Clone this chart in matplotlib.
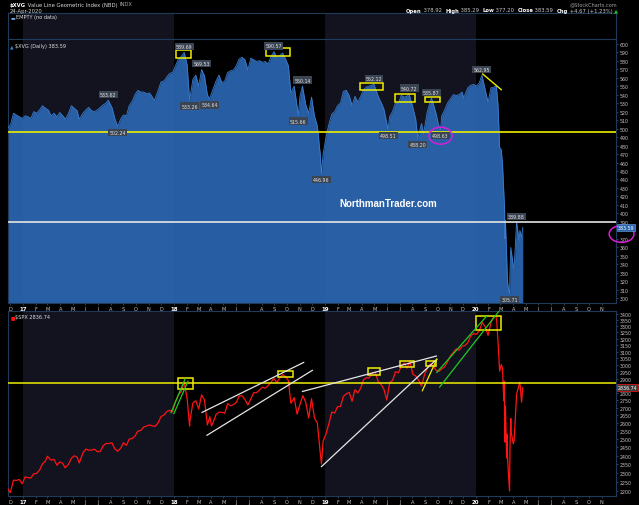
import numpy as np
import pandas as pd
import matplotlib
matplotlib.use("Agg")
import matplotlib.pyplot as plt
import matplotlib.dates as mdates
from matplotlib.patches import Rectangle, Ellipse
from matplotlib.ticker import FixedLocator, NullLocator, FuncFormatter
from matplotlib.offsetbox import TextArea, HPacker, AnchoredOffsetbox

# ---------------- data ----------------
xvg_dates = [
    "2016-11-25", "2016-12-02", "2016-12-09", "2016-12-16", "2016-12-23", "2016-12-30",
    "2017-01-06", "2017-01-13", "2017-01-20", "2017-01-27", "2017-02-03", "2017-02-10",
    "2017-02-17", "2017-02-24", "2017-03-03", "2017-03-10", "2017-03-17", "2017-03-24",
    "2017-03-31", "2017-04-07", "2017-04-14", "2017-04-21", "2017-04-28", "2017-05-05",
    "2017-05-12", "2017-05-17", "2017-05-26", "2017-06-02", "2017-06-09", "2017-06-16",
    "2017-06-23", "2017-06-30", "2017-07-07", "2017-07-14", "2017-07-21", "2017-07-26",
    "2017-08-04", "2017-08-11", "2017-08-18", "2017-08-25", "2017-09-01", "2017-09-08",
    "2017-09-15", "2017-09-22", "2017-09-29", "2017-10-06", "2017-10-13", "2017-10-20",
    "2017-10-27", "2017-11-03", "2017-11-10", "2017-11-15", "2017-11-24", "2017-12-01",
    "2017-12-08", "2017-12-15", "2017-12-22", "2017-12-29",
    "2018-01-05", "2018-01-12", "2018-01-19", "2018-01-26", "2018-02-02", "2018-02-08",
    "2018-02-16", "2018-02-23", "2018-03-02", "2018-03-09", "2018-03-16", "2018-03-23",
    "2018-03-28", "2018-04-06", "2018-04-13", "2018-04-20", "2018-04-27", "2018-05-04",
    "2018-05-11", "2018-05-18", "2018-05-25", "2018-06-01", "2018-06-08", "2018-06-15",
    "2018-06-22", "2018-06-29", "2018-07-06", "2018-07-13", "2018-07-20", "2018-07-27",
    "2018-08-03", "2018-08-10", "2018-08-17", "2018-08-24", "2018-08-31", "2018-09-07",
    "2018-09-14", "2018-09-21", "2018-09-28", "2018-10-05", "2018-10-11", "2018-10-19",
    "2018-10-29", "2018-11-02", "2018-11-08", "2018-11-16", "2018-11-23", "2018-11-30",
    "2018-12-07", "2018-12-14", "2018-12-21", "2018-12-24", "2018-12-28",
    "2019-01-04", "2019-01-11", "2019-01-18", "2019-01-25", "2019-02-01", "2019-02-08",
    "2019-02-15", "2019-02-22", "2019-03-01", "2019-03-08", "2019-03-15", "2019-03-22",
    "2019-03-29", "2019-04-05", "2019-04-12", "2019-04-18", "2019-04-30", "2019-05-03",
    "2019-05-10", "2019-05-17", "2019-05-24", "2019-06-03", "2019-06-07", "2019-06-14",
    "2019-06-21", "2019-06-28", "2019-07-05", "2019-07-12", "2019-07-19", "2019-07-24",
    "2019-08-02", "2019-08-09", "2019-08-14", "2019-08-23", "2019-08-28", "2019-09-06",
    "2019-09-16", "2019-09-20", "2019-09-27", "2019-10-03", "2019-10-08", "2019-10-11",
    "2019-10-18", "2019-10-25", "2019-11-01", "2019-11-08", "2019-11-15", "2019-11-22",
    "2019-11-29", "2019-12-03", "2019-12-13", "2019-12-20", "2019-12-27",
    "2020-01-03", "2020-01-10", "2020-01-16", "2020-01-24", "2020-01-31", "2020-02-07",
    "2020-02-14", "2020-02-20", "2020-02-24", "2020-02-27", "2020-02-28", "2020-03-03",
    "2020-03-06", "2020-03-09", "2020-03-11", "2020-03-12", "2020-03-13", "2020-03-16",
    "2020-03-18", "2020-03-20", "2020-03-23", "2020-03-24", "2020-03-26", "2020-04-01",
    "2020-04-03", "2020-04-09", "2020-04-15", "2020-04-17", "2020-04-21", "2020-04-24",
]
xvg_close = [
    500, 505, 518, 516, 514, 512,
    515, 514, 512, 520, 518, 522,
    527, 524, 522, 515, 518, 514,
    519, 515, 511, 518, 527, 524,
    521, 511, 518, 522, 525, 521,
    520, 522, 525, 528, 530, 533.62,
    525, 512, 502.24, 511, 516, 515,
    527, 532, 540, 545, 543, 543,
    541, 542, 537, 533, 545, 555,
    556, 561, 565, 566,
    574, 582, 585, 589.69, 575, 533.26,
    558, 563, 550, 569.53, 562, 540,
    534.64, 547, 556, 563, 554, 556,
    566, 568, 569, 574, 582, 584,
    581, 569, 583, 581, 579, 580,
    578, 579, 576, 585, 590.57, 584,
    586, 589, 582, 574, 542, 550,
    515.66, 538, 550.14, 528, 518, 537,
    515, 503, 470, 446.96, 470,
    490, 505, 517, 520, 527, 530,
    544, 545, 539, 527, 538, 531,
    538, 546, 549, 550, 552.12, 548,
    538, 531, 523, 498.51, 514, 520,
    530, 529, 539, 537, 538, 540.72,
    525, 511, 488.20, 506, 494, 520,
    535.87, 530, 518, 505, 498.63, 515,
    522, 530, 535, 540, 539, 540,
    543, 536, 548, 551, 552,
    550, 554, 562.95, 546, 531, 548,
    549, 550, 528, 491, 478, 475,
    458, 425, 405, 370, 392, 350,
    320, 312, 305.71, 330, 360, 338,
    335, 389.88, 368, 380, 372, 383.59,
]

spx_dates = [
    "2016-11-25", "2016-12-01", "2016-12-09", "2016-12-16", "2016-12-23", "2016-12-30",
    "2017-01-06", "2017-01-13", "2017-01-20", "2017-01-27", "2017-02-03", "2017-02-10",
    "2017-02-17", "2017-02-24", "2017-03-01", "2017-03-10", "2017-03-17", "2017-03-24",
    "2017-03-31", "2017-04-07", "2017-04-13", "2017-04-21", "2017-04-28", "2017-05-05",
    "2017-05-12", "2017-05-17", "2017-05-26", "2017-06-02", "2017-06-09", "2017-06-16",
    "2017-06-23", "2017-06-30", "2017-07-07", "2017-07-14", "2017-07-21", "2017-07-28",
    "2017-08-04", "2017-08-11", "2017-08-18", "2017-08-25", "2017-09-01", "2017-09-08",
    "2017-09-15", "2017-09-22", "2017-09-29", "2017-10-06", "2017-10-13", "2017-10-20",
    "2017-10-27", "2017-11-03", "2017-11-10", "2017-11-17", "2017-11-24", "2017-12-01",
    "2017-12-08", "2017-12-15", "2017-12-22", "2017-12-29",
    "2018-01-05", "2018-01-12", "2018-01-19", "2018-01-26", "2018-02-02", "2018-02-08",
    "2018-02-09", "2018-02-16", "2018-02-23", "2018-03-02", "2018-03-09", "2018-03-16",
    "2018-03-23", "2018-03-29", "2018-04-02", "2018-04-06", "2018-04-13", "2018-04-20",
    "2018-04-27", "2018-05-04", "2018-05-11", "2018-05-18", "2018-05-25", "2018-06-01",
    "2018-06-08", "2018-06-15", "2018-06-22", "2018-06-29", "2018-07-06", "2018-07-13",
    "2018-07-20", "2018-07-27", "2018-08-03", "2018-08-10", "2018-08-17", "2018-08-24",
    "2018-08-31", "2018-09-07", "2018-09-14", "2018-09-21", "2018-09-28", "2018-10-05",
    "2018-10-11", "2018-10-19", "2018-10-26", "2018-11-02", "2018-11-09", "2018-11-16",
    "2018-11-23", "2018-11-30", "2018-12-07", "2018-12-14", "2018-12-21", "2018-12-24",
    "2018-12-28",
    "2019-01-04", "2019-01-11", "2019-01-18", "2019-01-25", "2019-02-01", "2019-02-08",
    "2019-02-15", "2019-02-22", "2019-03-01", "2019-03-08", "2019-03-15", "2019-03-22",
    "2019-03-29", "2019-04-05", "2019-04-12", "2019-04-18", "2019-04-26", "2019-05-03",
    "2019-05-10", "2019-05-17", "2019-05-24", "2019-05-31", "2019-06-07", "2019-06-14",
    "2019-06-21", "2019-06-28", "2019-07-05", "2019-07-12", "2019-07-19", "2019-07-26",
    "2019-08-02", "2019-08-09", "2019-08-16", "2019-08-23", "2019-08-30", "2019-09-06",
    "2019-09-13", "2019-09-20", "2019-09-27", "2019-10-04", "2019-10-11", "2019-10-18",
    "2019-10-25", "2019-11-01", "2019-11-08", "2019-11-15", "2019-11-22", "2019-11-29",
    "2019-12-06", "2019-12-13", "2019-12-20", "2019-12-27",
    "2020-01-03", "2020-01-10", "2020-01-17", "2020-01-24", "2020-01-31", "2020-02-07",
    "2020-02-14", "2020-02-19", "2020-02-21", "2020-02-25", "2020-02-28", "2020-03-03",
    "2020-03-06", "2020-03-09", "2020-03-10", "2020-03-12", "2020-03-13", "2020-03-16",
    "2020-03-17", "2020-03-18", "2020-03-20", "2020-03-23", "2020-03-24", "2020-03-26",
    "2020-03-27", "2020-04-01", "2020-04-03", "2020-04-09", "2020-04-14", "2020-04-17",
    "2020-04-21", "2020-04-24",
]
spx_close = [
    2213, 2191, 2259, 2258, 2263, 2239,
    2277, 2274, 2271, 2295, 2297, 2316,
    2351, 2367, 2396, 2373, 2378, 2344,
    2363, 2355, 2329, 2349, 2384, 2399,
    2391, 2357, 2416, 2439, 2432, 2433,
    2438, 2423, 2425, 2459, 2473, 2472,
    2477, 2441, 2426, 2443, 2477, 2461,
    2500, 2502, 2519, 2549, 2553, 2575,
    2581, 2588, 2582, 2579, 2602, 2642,
    2652, 2675, 2683, 2674,
    2743, 2786, 2810, 2873, 2762, 2581,
    2620, 2732, 2747, 2691, 2786, 2752,
    2588, 2641, 2582, 2604, 2656, 2670,
    2670, 2663, 2728, 2713, 2721, 2735,
    2779, 2780, 2755, 2718, 2760, 2801,
    2802, 2819, 2840, 2833, 2850, 2875,
    2902, 2872, 2905, 2930, 2914, 2886,
    2729, 2768, 2658, 2723, 2781, 2736,
    2633, 2760, 2633, 2600, 2417, 2351,
    2486,
    2532, 2596, 2671, 2665, 2707, 2708,
    2776, 2793, 2804, 2743, 2822, 2800,
    2834, 2893, 2907, 2905, 2940, 2946,
    2881, 2860, 2826, 2752, 2873, 2887,
    2950, 2942, 2990, 3014, 2976, 3026,
    2932, 2919, 2889, 2847, 2926, 2979,
    3007, 2992, 2962, 2952, 2970, 2986,
    3023, 3067, 3093, 3120, 3110, 3141,
    3146, 3169, 3221, 3240,
    3235, 3265, 3330, 3295, 3226, 3328,
    3380, 3386, 3338, 3128, 2954, 3003,
    2972, 2747, 2882, 2481, 2711, 2386,
    2529, 2399, 2305, 2200, 2447, 2630,
    2541, 2471, 2489, 2790, 2846, 2875,
    2737, 2837,
]

# marked highs (+1) / lows (-1) on the XVG panel
xvg_mark_dates = ["2017-07-26", "2017-08-18", "2018-01-26", "2018-02-08", "2018-03-09",
                  "2018-03-28", "2018-08-31", "2018-10-29", "2018-11-08", "2018-12-24",
                  "2019-04-30", "2019-06-03", "2019-07-24", "2019-08-14", "2019-09-16",
                  "2019-10-08", "2020-01-16", "2020-03-23", "2020-04-09"]
xvg_mark_side = [1, -1, 1, -1, 1, -1, 1, -1, 1, -1, 1, -1, 1, -1, 1, -1, 1, -1, 1]

xvg_levels = [496.5, 390.0]           # yellow, white
spx_level = 2872.0                    # yellow

# (start, end, low, high)
xvg_boxes = [("2018-01-06", "2018-02-12", 583.5, 592.2),
             ("2018-08-12", "2018-10-08", 585.2, 595.3),
             ("2019-03-27", "2019-05-21", 545.8, 553.7),
             ("2019-06-21", "2019-08-07", 531.7, 540.7),
             ("2019-08-31", "2019-10-07", 531.0, 537.6)]
xvg_diag = ("2020-01-18", 564.3, "2020-03-03", 545.8)

spx_boxes = [("2018-01-11", "2018-02-16", 2828, 2905),
             ("2018-09-09", "2018-10-15", 2909, 2955),
             ("2019-04-15", "2019-05-14", 2928, 2977),
             ("2019-07-03", "2019-08-05", 2981, 3030),
             ("2019-09-03", "2019-09-27", 2995, 3030),
             ("2020-01-03", "2020-03-03", 3266, 3386)]
# (start, value, end, value)
spx_white = [("2018-03-10", 2669, "2018-11-11", 3018),
             ("2018-03-22", 2523, "2018-12-02", 2960),
             ("2018-11-08", 2810, "2019-09-28", 3066),
             ("2018-12-24", 2336, "2019-09-29", 3042)]
spx_green = [("2017-12-25", 2667, "2018-01-28", 2898),
             ("2018-01-01", 2661, "2018-02-04", 2881),
             ("2019-09-29", 2945, "2020-01-27", 3380),
             ("2019-10-06", 2841, "2020-02-26", 3422)]
spx_yellow = [("2019-08-25", 2815, "2019-09-29", 3042)]

# ---------------- styling ----------------
W, H = 639, 506
NAVY = "#12131f"
SPINE = "#203a5c"
YEL = "#eeee00"
WHITE = "#e6e6e6"
GREEN = "#1ecb1e"
MAG = "#d61ed6"
TICKC = "#c4c4c4"


def d2n(s):
    return mdates.date2num(np.datetime64(s))


def px_rect(x0, y0, x1, y1):
    return [x0 / W, 1 - y1 / H, (x1 - x0) / W, (y1 - y0) / H]


def base_axes(ax):
    ax.set_facecolor("black")
    ax.set_xlim(d2n("2017-01-01") - 36.3, d2n("2017-01-01") + 1434.5)
    for s in ax.spines.values():
        s.set_color(SPINE)
        s.set_linewidth(0.8)
    ax.axvspan(d2n("2017-01-01"), d2n("2018-01-01"), color=NAVY, lw=0, zorder=0)
    ax.axvspan(d2n("2019-01-01"), d2n("2020-01-01"), color=NAVY, lw=0, zorder=0)


def month_ticks(ax):
    months = pd.date_range("2016-12-01", "2020-11-01", freq="MS")
    labels = [f"{m.year % 100:02d}" if m.month == 1 else "JFMAMJJASOND"[m.month - 1]
              for m in months]
    ax.tick_params(axis="x", length=1.5, width=0.5, color="#4a5a70", pad=1.0,
                   labelsize=3.6, labelcolor=TICKC)
    ax.set_xticks(mdates.date2num(months.to_pydatetime()))
    ax.set_xticklabels(labels)
    for lab, m in zip(ax.get_xticklabels(), months):
        if m.month == 1:
            lab.set_color("white")
            lab.set_fontweight("bold")
            lab.set_fontsize(4.0)


def price_ticks(ax, ticks, hidden):
    # the last-price box sits on top of one tick label, as on the original
    ax.yaxis.tick_right()
    ax.yaxis.set_major_locator(FixedLocator(ticks))
    ax.yaxis.set_major_formatter(
        FuncFormatter(lambda v, p: "" if round(v) == hidden else f"{v:.0f}"))
    ax.yaxis.set_minor_locator(NullLocator())
    ax.tick_params(axis="y", labelsize=3.4, labelcolor=TICKC, length=1.5, width=0.5,
                   color="#4a5a70", pad=1.0)


def text_row(parts, fs):
    boxes = [TextArea(t, textprops=dict(color=c, fontsize=fs, fontweight=w))
             for t, c, w in parts]
    return HPacker(children=boxes, align="baseline", pad=0, sep=0)


def put_row(fig, parts, fs, xy, loc):
    box = AnchoredOffsetbox(loc=loc, child=text_row(parts, fs), pad=0, borderpad=0,
                            frameon=False, bbox_to_anchor=xy,
                            bbox_transform=fig.transFigure)
    fig.add_artist(box)


fig = plt.figure(figsize=(6.39, 5.06), dpi=100, facecolor="black")

# ---- header ----
put_row(fig, [("$XVG", "white", "bold"),
              (" Value Line Geometric Index (NBD) ", "#d8d8d8", "normal"),
              ("INDX", "#a8a8a8", "normal")], 3.8, (10 / W, 1 - 5 / H), "center left")
fig.text(10 / W, 1 - 11 / H, "24-Apr-2020", color="#d8d8d8", fontsize=3.8,
         ha="left", va="center")
fig.text(617 / W, 1 - 4.5 / H, "@StockCharts.com", color="#a0a0a0", fontsize=3.6,
         ha="right", va="center")
put_row(fig, [("Open", "white", "bold"), (" 378.92  ", "#c8c8c8", "normal"),
              ("High", "white", "bold"), (" 385.29  ", "#c8c8c8", "normal"),
              ("Low", "white", "bold"), (" 377.20  ", "#c8c8c8", "normal"),
              ("Close", "white", "bold"), (" 383.59  ", "#c8c8c8", "normal"),
              ("Chg", "white", "bold"), (" +4.67 (+1.23%) ", "#c8c8c8", "normal"),
              ("▲", "#22c022", "normal")], 3.8, (618 / W, 1 - 11 / H), "center right")

# ---- empty panel ----
ax_e = fig.add_axes(px_rect(8, 14, 616, 40))
base_axes(ax_e)
ax_e.set_xticks([])
ax_e.set_yticks([])
ax_e.text(0.004, 0.86, "▬", color="#6fa8dc", fontsize=3.6, transform=ax_e.transAxes,
          va="center")
ax_e.text(0.013, 0.86, "EMPTY (no data)", color="#e0e0e0", fontsize=3.6,
          transform=ax_e.transAxes, va="center")

# ---- XVG panel ----
ax_t = fig.add_axes(px_rect(8, 40, 616, 304))
base_axes(ax_t)
ylo, yhi = 294.5, 605.5
ax_t.set_ylim(ylo, yhi)
xd = mdates.date2num(np.array(xvg_dates, dtype="datetime64[D]"))
ax_t.fill_between(xd, xvg_close, ylo, color="#2a66b2", alpha=0.92, lw=0, zorder=2)
ax_t.plot(xd, xvg_close, color="#3a7ed0", lw=0.6, zorder=3)

ax_t.axhline(xvg_levels[0], color=YEL, lw=1.2, zorder=4)
ax_t.axhline(xvg_levels[1], color=WHITE, lw=1.2, zorder=4)
for a, b, lo, hi in xvg_boxes:
    ax_t.add_patch(Rectangle((d2n(a), lo), d2n(b) - d2n(a), hi - lo, fill=False,
                             ec=YEL, lw=1.1, zorder=5))
ax_t.plot([d2n(xvg_diag[0]), d2n(xvg_diag[2])], [xvg_diag[1], xvg_diag[3]],
          color=YEL, lw=1.0, zorder=5)

for ds, side in zip(xvg_mark_dates, xvg_mark_side):
    v = xvg_close[xvg_dates.index(ds)]
    ax_t.annotate(f"{v:.2f}", (d2n(ds), v), xytext=(0, 4.2 * side),
                  textcoords="offset points", ha="center", va="center",
                  fontsize=3.4, color="#e4e4e4", zorder=6,
                  bbox=dict(boxstyle="square,pad=0.25", fc="#3a4452", ec="none"))

ax_t.add_patch(Ellipse((d2n("2019-10-08"), 491.6), 56, 20, fill=False, ec=MAG,
                       lw=1.1, zorder=7))
ax_t.add_patch(Ellipse((d2n("2020-12-19"), 375.8), 60, 19.7, fill=False, ec=MAG,
                       lw=1.1, zorder=7, clip_on=False))

ax_t.text(0.625, 0.379, "NorthmanTrader.com", color="white", fontsize=7,
          fontweight="bold", family="Liberation Sans", ha="center", va="center",
          transform=ax_t.transAxes, zorder=6)
ax_t.text(0.004, 0.985, "▲", color="#3a7ed0", fontsize=3.4, transform=ax_t.transAxes,
          va="top")
ax_t.text(0.012, 0.985, "$XVG (Daily) 383.59", color="#e0e0e0", fontsize=3.6,
          transform=ax_t.transAxes, va="top")

price_ticks(ax_t, np.arange(300, 601, 10), 380)
month_ticks(ax_t)
ax_t.text(1.003, xvg_close[-1], f"{xvg_close[-1]:.2f}", transform=ax_t.get_yaxis_transform(),
          fontsize=3.4, color="white", ha="left", va="center", zorder=8, clip_on=False,
          bbox=dict(boxstyle="square,pad=0.2", fc="#2a66b2", ec="#6fa8dc", lw=0.4))

# ---- SPX panel ----
ax_b = fig.add_axes(px_rect(8, 312, 616, 497))
base_axes(ax_b)
ax_b.set_yscale("log")
ax_b.set_ylim(2173, 3425)
sd = mdates.date2num(np.array(spx_dates, dtype="datetime64[D]"))
ax_b.plot(sd, spx_close, color="#ff1414", lw=0.9, zorder=3)

ax_b.axhline(spx_level, color=YEL, lw=1.1, zorder=4)
for a, b, lo, hi in spx_boxes:
    ax_b.add_patch(Rectangle((d2n(a), lo), d2n(b) - d2n(a), hi - lo, fill=False,
                             ec=YEL, lw=1.1, zorder=5))
for a, v1, b, v2 in spx_white:
    ax_b.plot([d2n(a), d2n(b)], [v1, v2], color=WHITE, lw=0.9, zorder=5)
for a, v1, b, v2 in spx_green:
    ax_b.plot([d2n(a), d2n(b)], [v1, v2], color=GREEN, lw=0.9, zorder=5)
for a, v1, b, v2 in spx_yellow:
    ax_b.plot([d2n(a), d2n(b)], [v1, v2], color=YEL, lw=0.9, zorder=5)

ax_b.text(0.004, 0.985, "■", color="#ff1414", fontsize=3.4, transform=ax_b.transAxes,
          va="top")
ax_b.text(0.012, 0.985, "$SPX 2836.74", color="#e0e0e0", fontsize=3.6,
          transform=ax_b.transAxes, va="top")

price_ticks(ax_b, np.arange(2200, 3401, 50), 2850)
month_ticks(ax_b)
ax_b.text(1.003, 2836.74, "2836.74", transform=ax_b.get_yaxis_transform(),
          fontsize=3.4, color="white", ha="left", va="center", zorder=8, clip_on=False,
          bbox=dict(boxstyle="square,pad=0.2", fc="#3c3c3c", ec="#ff1414", lw=0.5))

fig.savefig("out.png", dpi=100, facecolor="black")
